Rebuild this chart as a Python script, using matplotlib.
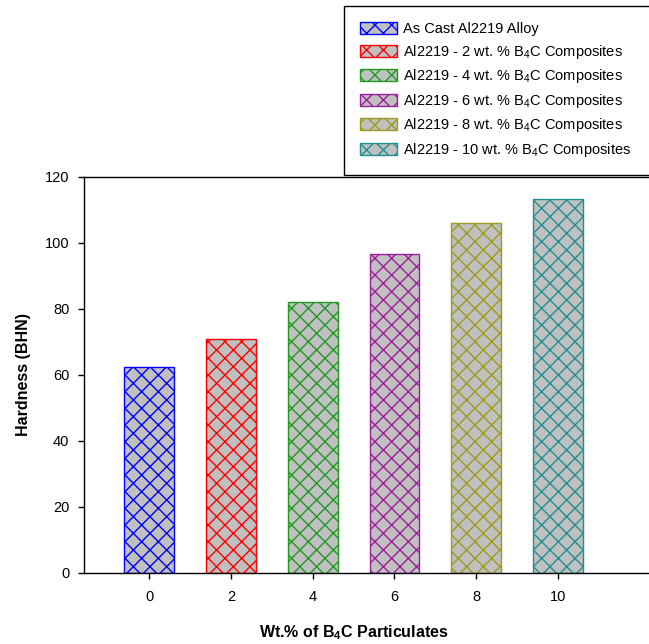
import matplotlib
matplotlib.use("Agg")
import matplotlib.pyplot as plt

plt.rcParams['font.family'] = ['Liberation Sans', 'DejaVu Sans']
plt.rcParams['mathtext.fontset'] = 'custom'
plt.rcParams['mathtext.rm'] = 'Liberation Sans'
plt.rcParams['mathtext.bf'] = 'Liberation Sans:bold'
plt.rcParams['mathtext.it'] = 'Liberation Sans:italic'
plt.rcParams['hatch.linewidth'] = 1.0

wt = [0, 2, 4, 6, 8, 10]
hardness = [62.4, 70.8, 82.0, 96.7, 106.2, 113.2]
labels = ['As Cast Al2219 Alloy',
          'Al2219 - 2 wt. % B$_4$C Composites',
          'Al2219 - 4 wt. % B$_4$C Composites',
          'Al2219 - 6 wt. % B$_4$C Composites',
          'Al2219 - 8 wt. % B$_4$C Composites',
          'Al2219 - 10 wt. % B$_4$C Composites']
colors = ['#0000ff', '#ff0000', '#1f991f', '#9b1f9b', '#9b9b1f', '#1f9090']
yticks = [0, 20, 40, 60, 80, 100, 120]

fig = plt.figure(figsize=(6.49, 6.44), dpi=100)
ax = fig.add_axes([84/649, 1-573/644, 1-84/649, (573-177)/644])

for x, h, lab, c in zip(wt, hardness, labels, colors):
    ax.bar(x, h, width=1.22, facecolor='#c0c0c0', edgecolor=c, hatch='xx',
           linewidth=1.0, label=lab)

ax.set_xlim(-1.6, 12.23)
ax.set_ylim(0, 120)
ax.set_xticks(wt)
ax.set_yticks(yticks)
ax.tick_params(axis='both', direction='out', length=4, width=1, labelsize=10.5)
ax.tick_params(axis='x', pad=8)
ax.tick_params(axis='y', pad=6.5)
ax.spines['right'].set_visible(False)
for s in ['left', 'bottom', 'top']:
    ax.spines[s].set_linewidth(1.0)

ax.set_xlabel(r'Wt.% of B$_\mathbf{4}$C Particulates', fontsize=11.5, fontweight='bold')
ax.set_ylabel('Hardness (BHN)', fontsize=11.5, fontweight='bold')
ax.xaxis.set_label_coords((354-84)/565, -0.128)
ax.yaxis.set_label_coords((31-84)/565, 0.5)

handles, labs = ax.get_legend_handles_labels()
leg = fig.legend(handles, labs, loc='upper left',
                 bbox_to_anchor=(344/649, 1-6/644, 1.05-344/649, 0.0),
                 mode='expand', borderaxespad=0, fontsize=10.5,
                 handlelength=2.5, handleheight=0.9, handletextpad=0.45,
                 labelspacing=0.45, borderpad=1.1, fancybox=False,
                 frameon=True, edgecolor='black', framealpha=1)
leg.get_frame().set_linewidth(1.0)

fig.savefig('out.png', dpi=100)
